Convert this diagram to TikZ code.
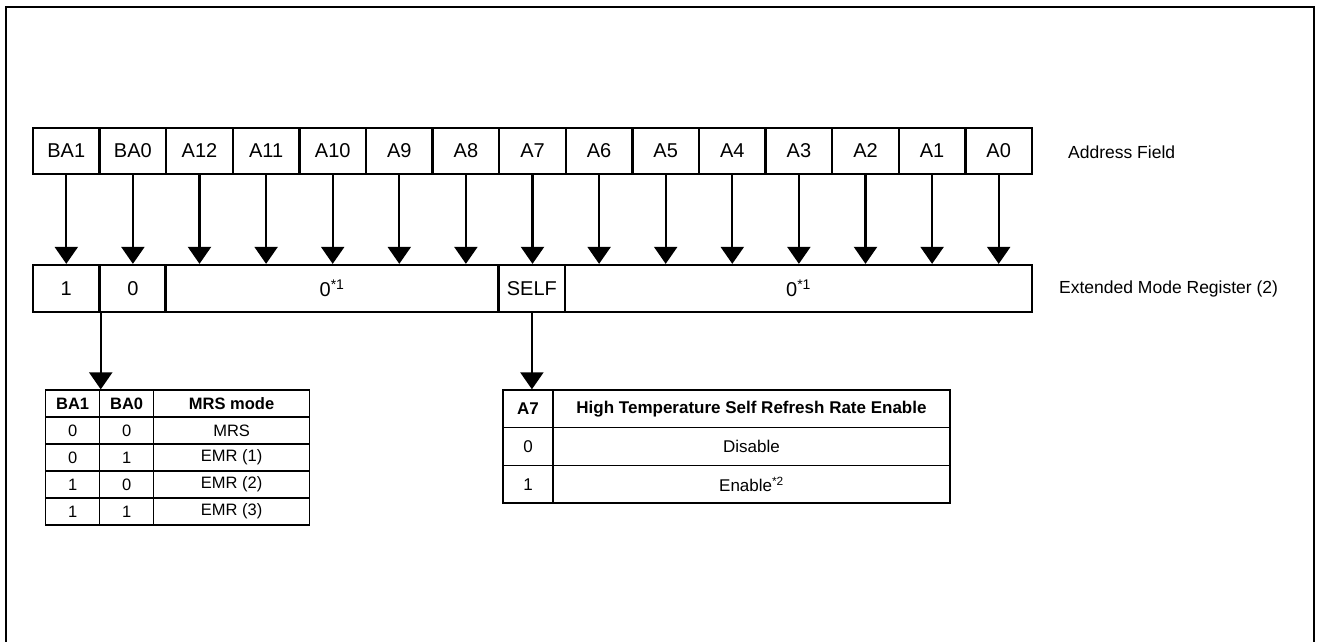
\documentclass[tikz,border=0pt]{standalone}
\usepackage{fontspec}
\setmainfont{Liberation Sans}
\usetikzlibrary{arrows.meta}
\begin{document}
\begin{tikzpicture}[x=1pt,y=-1pt,
  regcell/.style={draw, line width=2.3pt, minimum height=46pt, inner sep=0pt, font=\fontsize{20}{24}\selectfont},
  side/.style={anchor=west, inner sep=0pt, font=\fontsize{17.5}{21}\selectfont},
  tcell/.style={draw, line width=1.3pt, inner sep=0pt, font=\fontsize{16.5}{20}\selectfont},
  mcell/.style={tcell, minimum height=27pt},
  acell/.style={tcell, minimum height=37.7pt, font=\fontsize{17}{20}\selectfont},
  tarr/.style={line width=2.3pt, -{Triangle[width=23pt,length=17pt]}}
]
\useasboundingbox (0,0) rectangle (1320,641);
\fill[white] (0,0) rectangle (1320,641);
\draw[line width=2.5pt] (6,660) -- (6,7) -- (1314,7) -- (1314,660);

% address field
\foreach \lab [count=\i from 0] in {BA1,BA0,A12,A11,A10,A9,A8,A7,A6,A5,A4,A3,A2,A1,A0}
  \node[regcell, minimum width=66.6pt] (t\i) at ({66.3+66.6*\i},151) {\lab};

% extended mode register
\node[regcell, minimum width=66.6pt, minimum height=47pt] (b1) at (66.3,288.5) {1};
\node[regcell, minimum width=66.6pt, minimum height=47pt] (b0) at (132.9,288.5) {0};
\node[regcell, minimum width=333pt, minimum height=47pt] (bz1) at (332.1,288.5) {0\textsuperscript{*1}};
\node[regcell, minimum width=66.6pt, minimum height=47pt] (bself) at (531.9,288.5) {SELF};
\node[regcell, minimum width=466.8pt, minimum height=47pt] (bz2) at (798.6,288.5) {0\textsuperscript{*1}};

\foreach \i in {0,...,14}
  \draw[tarr] (t\i.south) -- (t\i.south |- b1.north);

\node[side] (af) at (1068,152) {Address Field};
\node[side] (emr) at (1059,288.5) {Extended Mode Register (2)};

% MRS table
\node[mcell, minimum width=54pt, font=\fontsize{16.5}{20}\bfseries] (mh1) at (72.6,403.5) {BA1};
\node[mcell, minimum width=54pt, font=\fontsize{16.5}{20}\bfseries] (mh2) at (126.6,403.5) {BA0};
\node[mcell, minimum width=156pt, font=\fontsize{16.5}{20}\bfseries] (mh3) at (231.6,403.5) {MRS mode};
\node[mcell, minimum width=54pt] (m11) at (72.6,430.5) {0};
\node[mcell, minimum width=54pt] (m12) at (126.6,430.5) {0};
\node[mcell, minimum width=156pt] (m13) at (231.6,430.5) {MRS};
\node[mcell, minimum width=54pt] (m21) at (72.6,457.5) {0};
\node[mcell, minimum width=54pt] (m22) at (126.6,457.5) {1};
\node[mcell, minimum width=156pt] (m23) at (231.6,457.5) {EMR (1)};
\node[mcell, minimum width=54pt] (m31) at (72.6,484.5) {1};
\node[mcell, minimum width=54pt] (m32) at (126.6,484.5) {0};
\node[mcell, minimum width=156pt] (m33) at (231.6,484.5) {EMR (2)};
\node[mcell, minimum width=54pt] (m41) at (72.6,511.5) {1};
\node[mcell, minimum width=54pt] (m42) at (126.6,511.5) {1};
\node[mcell, minimum width=156pt] (m43) at (231.6,511.5) {EMR (3)};

\draw[tarr] (b1.south east) -- (b1.south east |- mh1.north);

% A7 table
\node[acell, minimum width=50pt, font=\fontsize{17}{20}\bfseries] (ah1) at (528,408.8) {A7};
\node[acell, minimum width=397pt, font=\fontsize{17}{20}\bfseries] (ah2) at (751.5,408.8) {High Temperature Self Refresh Rate Enable};
\node[acell, minimum width=50pt] (a11) at (528,446.5) {0};
\node[acell, minimum width=397pt] (a12) at (751.5,446.5) {Disable};
\node[acell, minimum width=50pt] (a21) at (528,484.2) {1};
\node[acell, minimum width=397pt] (a22) at (751.5,484.2) {Enable\textsuperscript{*2}};

\draw[tarr] (bself.south) -- (bself.south |- ah1.north);
\end{tikzpicture}
\end{document}
